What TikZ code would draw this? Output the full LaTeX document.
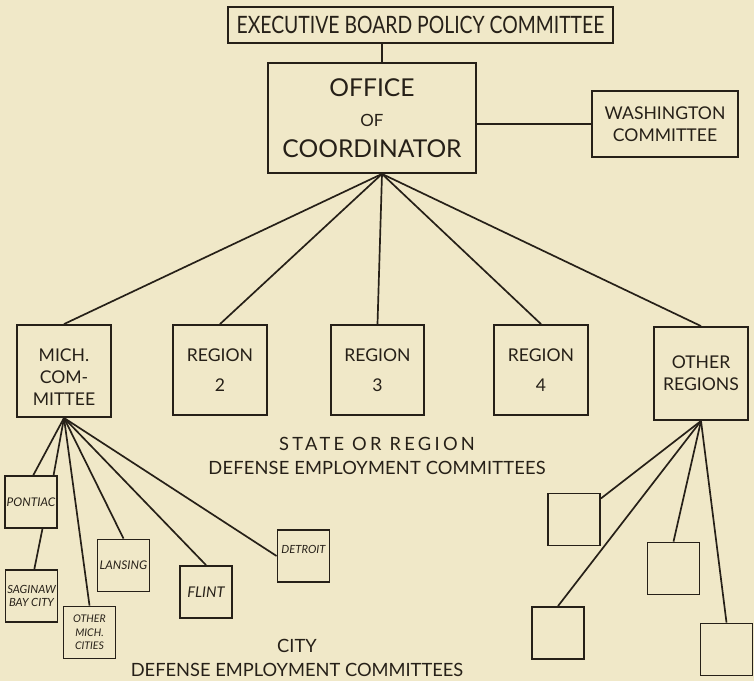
\documentclass[tikz,border=0pt]{standalone}
\usepackage{fontspec}
\setmainfont{Lato}
\usetikzlibrary{calc,positioning}
\definecolor{paper}{RGB}{240,232,200}
\definecolor{ink}{RGB}{38,32,24}
\tikzset{%
  box/.style={draw=ink, rectangle, line width=1.3pt, inner sep=0pt, align=center, text=ink},% plain box
  board/.style={box, font=\fontsize{16}{20}\selectfont},% top committee boxes
  region/.style={box, minimum width=2.33cm, minimum height=2.25cm,
    font=\fontsize{12.5}{21}\selectfont},% state / region committees
  city/.style={box, minimum width=1.3cm, minimum height=1.3cm,
    font=\itshape\fontsize{8.5}{9}\selectfont},% city committees
  caption/.style={text=ink, align=center, font=\fontsize{13}{17.5}\selectfont},% group titles
  link/.style={ink, line width=1.2pt}% connector
}
\begin{document}
\begin{tikzpicture}[x=0.025cm, y=-0.025cm]
\useasboundingbox[fill=paper] (0,0) rectangle (754,681);

% top of the chart
\node[board, minimum width=9.625cm, minimum height=0.9cm, font=\fontsize{17}{20}\selectfont\addfontfeatures{FakeStretch=0.81}]
  (exec) at (420.5,25) {EXECUTIVE BOARD POLICY COMMITTEE};
\node[board, minimum width=5.2cm, minimum height=2.75cm, font=\fontsize{17.5}{21.5}\selectfont] (office) at (372,118)
  {OFFICE\\{\fontsize{12}{14}\selectfont OF}\\COORDINATOR};
\node[board, minimum width=3.65cm, minimum height=1.65cm, font=\fontsize{12.5}{16}\selectfont] (wash) at (665,124)
  {WASHINGTON\\COMMITTEE};
\coordinate (ofhub) at ($(office.south)+(10,0)$);

% state or region committees
\node[region, minimum width=2.35cm, minimum height=2.3cm, font=\fontsize{12.5}{15.6}\selectfont] (mich) at (64,371)
  {\rule{0pt}{17.5pt}MICH.\\COM-\\MITTEE};
\node[region] (reg2) at (220,370) {REGION\\2};
\node[region] (reg3) at (377.5,370) {REGION\\3};
\node[region] (reg4) at (541,370) {REGION\\4};
\node[region, minimum height=2.325cm, font=\fontsize{12.5}{15.6}\selectfont] (other) at (701,373.5)
  {OTHER\\REGIONS};

\node[caption] (statecap) at (377,456)
  {\addfontfeatures{LetterSpace=18}STATE OR REGION\\\addfontfeatures{LetterSpace=1}DEFENSE EMPLOYMENT COMMITTEES};

% city committees
\node[city] (pontiac) at (31,502) {PONTIAC};
\node[city, font=\itshape\fontsize{8}{9.5}\selectfont] (saginaw) at (31.5,596) {SAGINAW\\BAY CITY};
\node[city, font=\itshape\fontsize{7.5}{9.5}\selectfont] (othermich) at (89.5,632.5) {OTHER\\MICH.\\CITIES};
\node[city] (lansing) at (123.5,565.5) {LANSING};
\node[city, font=\itshape\fontsize{10.5}{11}\selectfont] (flint) at (206,592) {FLINT};
\node[city, font=\itshape\fontsize{8}{9}\selectfont] (detroit) at (303.5,556) {\raisebox{9pt}{DETROIT}};

\node[city] (boxa) at (574,519.5) {};
\node[city] (boxb) at (673.5,568.5) {};
\node[city] (boxc) at (558,633) {};
\node[city] (boxd) at (726.5,649.5) {};

\node[caption, font=\fontsize{13}{16.5}\selectfont] (citycap) at (297,658)
  {CITY\\DEFENSE EMPLOYMENT COMMITTEES};

% connectors
\draw[link] (ofhub |- exec.south) -- (ofhub |- office.north);
\draw[link] (wash.west) -- (wash.west -| office.east);
\draw[link] (ofhub) -- (mich.north);
\draw[link] (ofhub) -- (reg2.north);
\draw[link] (ofhub) -- (reg3.north);
\draw[link] (ofhub) -- (reg4.north);
\draw[link] (ofhub) -- (other.north);

\draw[link] (mich.south) -- (pontiac.85);
\draw[link] (mich.south) -- (pontiac.50);
\draw[link] (pontiac.-67) -- (saginaw.84);
\draw[link] (mich.south) -- (othermich.north);
\draw[link] (mich.south) -- (lansing.north);
\draw[link] (mich.south) -- (flint.north);
\draw[link] (mich.south) -- (detroit.west);

\draw[link] (other.south) -- (boxa.38);
\draw[link] (other.south) -- (boxb.north);
\draw[link] (other.south) -- (boxc.north);
\draw[link] (other.south) -- (boxd.north);
\end{tikzpicture}
\end{document}
